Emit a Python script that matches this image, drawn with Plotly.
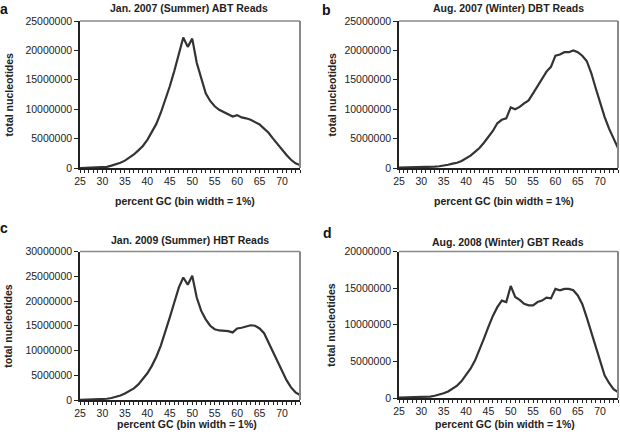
import plotly.graph_objects as go

gc = list(range(25, 75))

abt = [0.0, 0.03, 0.05, 0.08, 0.1, 0.15, 0.2, 0.4, 0.6, 0.9,
       1.25, 1.7, 2.3, 3.0, 3.75, 4.8, 6.1, 7.5, 9.4, 11.5,
       13.9, 16.5, 19.6, 22.2, 20.6, 22.0, 17.9, 15.3, 12.7, 11.4,
       10.5, 9.9, 9.5, 9.2, 8.75, 9.0, 8.6, 8.45, 8.2, 7.8,
       7.4, 6.7, 6.0, 5.0, 4.0, 3.0, 2.2, 1.4, 0.8, 0.5]
dbt = [0.05, 0.06, 0.07, 0.08, 0.09, 0.1, 0.12, 0.15, 0.22, 0.3,
       0.4, 0.55, 0.75, 0.9, 1.2, 1.6, 2.1, 2.75, 3.4, 4.3,
       5.3, 6.3, 7.6, 8.2, 8.45, 10.3, 10.0, 10.4, 11.0, 11.5,
       12.7, 14.0, 15.2, 16.4, 17.2, 19.1, 19.3, 19.7, 19.7, 20.0,
       19.7, 19.1, 18.2, 16.2, 13.6, 11.0, 8.7, 6.7, 5.0, 3.4]
hbt = [0.05, 0.06, 0.08, 0.1, 0.15, 0.2, 0.25, 0.4, 0.6, 0.9,
       1.3, 1.75, 2.35, 3.15, 4.2, 5.4, 6.9, 8.75, 11.0, 13.65,
       16.7, 19.7, 22.7, 24.75, 23.3, 25.1, 20.7, 18.0, 16.3, 15.0,
       14.3, 14.05, 14.0, 13.9, 13.65, 14.45, 14.6, 14.9, 15.1, 15.0,
       14.45, 13.5, 11.6, 9.75, 7.6, 5.7, 4.0, 2.55, 1.55, 1.0]
gbt = [0.05, 0.06, 0.07, 0.08, 0.09, 0.1, 0.15, 0.2, 0.3, 0.45,
       0.65, 0.9, 1.25, 1.7, 2.3, 3.2, 4.0, 5.1, 6.5, 8.1,
       9.7, 11.2, 12.4, 13.3, 13.1, 15.3, 13.8, 13.4, 12.85, 12.65,
       12.65, 13.1, 13.3, 13.7, 13.6, 14.9, 14.7, 14.9, 14.9, 14.7,
       14.0, 12.85, 11.0, 9.0, 6.95, 4.9, 3.1, 2.05, 1.2, 0.8]

titles = ["Jan. 2007 (Summer) ABT Reads", "Aug. 2007 (Winter) DBT Reads",
          "Jan. 2009 (Summer) HBT Reads", "Aug. 2008 (Winter) GBT Reads"]
letters = ["a", "b", "c", "d"]
ymax = [25, 25, 30, 20]
xtick_vals = [25, 30, 35, 40, 45, 50, 55, 60, 65, 70]
series = [abt, dbt, hbt, gbt]

W, H = 620, 435
# plot boxes in pixels: (left, right, top, bottom)
boxes = [(80, 300, 21, 168), (399, 618, 21, 168),
         (80, 300, 251.5, 400), (399, 618, 251.5, 398)]
title_pos = [(189, 8.5), (508, 8.5), (190, 240), (508, 241.5)]
letter_pos = [(4, 9), (326, 10), (4, 228), (327, 233)]
xtitle_pos = [(185, 200.5), (504, 200.5), (187, 423.5), (505, 423.5)]
ytitle_x = [8, 331, 8, 331]

FONT = "Liberation Sans, Arial, sans-serif"
fig = go.Figure()
annotations = []
shapes = []
layout = {}
for i in range(4):
    l, r, t, b = boxes[i]
    ax = "" if i == 0 else str(i + 1)
    yvals = [v * 1e6 for v in series[i]]
    fig.add_trace(go.Scatter(x=gc, y=yvals, mode="lines",
                             line=dict(color="#333333", width=2.2),
                             xaxis="x" + ax, yaxis="y" + ax, showlegend=False,
                             hoverinfo="skip"))
    layout["xaxis" + ax] = dict(
        domain=[l / W, r / W], anchor="y" + ax, range=[25, 74],
        tickmode="array", tickvals=xtick_vals, ticktext=[str(v) for v in xtick_vals],
        ticks="outside", ticklen=3, tickwidth=1, tickcolor="#222",
        minor=dict(dtick=1, tick0=25, ticks="outside", ticklen=3, tickcolor="#222", showgrid=False),
        showline=True, linecolor="#222", linewidth=1.5, showgrid=False, zeroline=False,
        automargin=False,
        tickfont=dict(family=FONT, size=10.5, color="#222"), fixedrange=True)
    ytv = [k * 5e6 for k in range(int(ymax[i] / 5) + 1)]
    layout["yaxis" + ax] = dict(
        domain=[1 - b / H, 1 - t / H], anchor="x" + ax, range=[0, ymax[i] * 1e6],
        tickmode="array", tickvals=ytv, ticktext=[str(int(v)) for v in ytv],
        ticks="outside", ticklen=4, tickwidth=1, tickcolor="#222",
        showline=True, linecolor="#222", linewidth=1.5, showgrid=False, zeroline=False,
        automargin=False,
        tickfont=dict(family=FONT, size=10.5, color="#222"), fixedrange=True)
    # gray frame (top and right)
    shapes.append(dict(type="line", xref="paper", yref="paper",
                       x0=l / W, x1=r / W, y0=1 - t / H, y1=1 - t / H,
                       line=dict(color="#888888", width=1.5)))
    shapes.append(dict(type="line", xref="paper", yref="paper",
                       x0=r / W, x1=r / W, y0=1 - t / H, y1=1 - b / H,
                       line=dict(color="#888888", width=2)))
    tx, ty = title_pos[i]
    annotations.append(dict(text="<b>" + titles[i] + "</b>", x=tx / W, y=1 - ty / H,
                            xref="paper", yref="paper", showarrow=False,
                            xanchor="center", yanchor="middle",
                            font=dict(family=FONT, size=10.5, color="#222")))
    lx, ly = letter_pos[i]
    annotations.append(dict(text="<b>" + letters[i] + "</b>", x=lx / W, y=1 - ly / H,
                            xref="paper", yref="paper", showarrow=False,
                            xanchor="center", yanchor="middle",
                            font=dict(family=FONT, size=14, color="#111")))
    xx, xy = xtitle_pos[i]
    annotations.append(dict(text="<b>percent GC (bin width = 1%)</b>", x=xx / W, y=1 - xy / H,
                            xref="paper", yref="paper", showarrow=False,
                            xanchor="center", yanchor="middle",
                            font=dict(family=FONT, size=10.5, color="#222")))
    annotations.append(dict(text="<b>total nucleotides</b>", x=ytitle_x[i] / W,
                            y=1 - (t + b) / 2 / H, textangle=-90,
                            xref="paper", yref="paper", showarrow=False,
                            xanchor="center", yanchor="middle",
                            font=dict(family=FONT, size=10.5, color="#222")))

fig.update_layout(width=W, height=H, margin=dict(l=0, r=0, t=0, b=0, autoexpand=False),
                  paper_bgcolor="white", plot_bgcolor="white",
                  annotations=annotations, shapes=shapes, **layout)
fig.write_html("out.html", config={"displayModeBar": False},
               post_script="document.body.style.margin='0';document.body.style.overflow='hidden';")
